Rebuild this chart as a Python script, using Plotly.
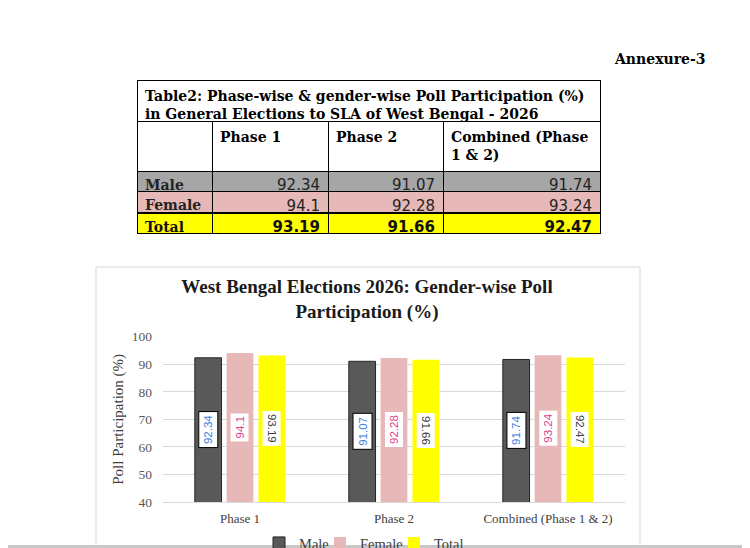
import plotly.graph_objects as go

# chart data
categories = ["Phase 1", "Phase 2", "Combined (Phase 1 & 2)"]
male = [92.34, 91.07, 91.74]
female = [94.1, 92.28, 93.24]
total = [93.19, 91.66, 92.47]

# table data
table_title = "Table2: Phase-wise & gender-wise Poll Participation (%)<br>in General Elections to SLA of West Bengal - 2026"
table_cols = ["", "Phase 1", "Phase 2", "Combined (Phase<br>1 & 2)"]
row_names = ["Male", "Female", "Total"]

# the page body has an 8px margin, so the figure is 8px smaller and
# positions below are given in page pixels
OFF = 8
W, H = 750 - OFF, 548 - OFF


def px_x(px):
    return (px - OFF) / W


def px_y(py):
    return 1 - (py - OFF) / H


serif = "Liberation Serif"
bar_colors = ["#595959", "#E6B8B7", "#FFFF00"]
row_fills = ["#A6A6A6", "#E6B8B7", "#FFFF00"]
label_colors = ["#3B7DDD", "#E0408A", "#404040"]

tbl_x = [px_x(137), px_x(600)]
col_w = [75, 116, 115, 157]
col_align = ["left", "right", "right", "right"]
cell_families = ["DejaVu Serif", "DejaVu Sans", "DejaVu Sans", "DejaVu Sans"]
cell_sizes = [14, 15, 15, 15]
row_h = 20.5

fig = go.Figure()

# --- table: merged title row, then the grid drawn over its lower edge
fig.add_trace(go.Table(
    domain=dict(x=tbl_x, y=[px_y(200), px_y(80)]),
    columnwidth=[1],
    header=dict(values=["<b>" + table_title + "</b>"], align="left", height=40,
                fill_color="white", line=dict(color="black", width=1),
                font=dict(family="DejaVu Serif", size=14, color="black")),
    cells=dict(values=[[""]], height=4, fill_color="white",
               line=dict(color="white", width=0)),
))

series = [male, female, total]
# header + Male/Female rows
fig.add_trace(go.Table(
    domain=dict(x=tbl_x, y=[px_y(262), px_y(121)]),
    columnwidth=col_w,
    header=dict(values=["<b>" + h + "</b>" for h in table_cols], align="left", height=41,
                fill_color="white", line=dict(color="black", width=1),
                font=dict(family="DejaVu Serif", size=14, color="black")),
    cells=dict(values=[row_names[:2]] + [[str(series[r][c]) for r in range(2)] for c in range(3)],
               align=col_align, height=row_h,
               fill_color=[row_fills[:2]] * 4, line=dict(color="black", width=1),
               font=dict(family=cell_families, size=cell_sizes, color="#222222",
                         weight=["bold", "normal", "normal", "normal"])),
))
# Total row (all bold), drawn as its own one-row table
fig.add_trace(go.Table(
    domain=dict(x=tbl_x, y=[px_y(262), px_y(213)]),
    columnwidth=col_w,
    header=dict(values=[row_names[2]] + [str(v) for v in total], align=col_align, height=row_h,
                fill_color=row_fills[2], line=dict(color="black", width=1),
                font=dict(family=cell_families, size=cell_sizes, color="#111111", weight="bold")),
    cells=dict(values=[[""]] * 4, height=1, fill_color="white",
               line=dict(color="white", width=0)),
))

# --- bar chart
names = ["Male", "Female", "Total"]
legend_widths = [16, 29, 32]
for j in range(3):
    fig.add_trace(go.Bar(
        x=categories, y=series[j], name=names[j], legendwidth=legend_widths[j],
        marker=dict(color=bar_colors[j],
                    line=dict(color="#262626" if j == 0 else bar_colors[j], width=1 if j == 0 else 0)),
        hoverinfo="skip",
    ))

bargap = 0.38
slot = (1 - bargap) / 3
annotations = []
for j in range(3):
    for i in range(len(categories)):
        annotations.append(dict(
            x=i + (j - 1) * slot, y=(40 + series[j][i]) / 2, xref="x", yref="y",
            text=str(series[j][i]), showarrow=False,
            textangle=90 if j == 2 else -90,
            font=dict(family="Liberation Sans", size=11.5, color=label_colors[j]),
            bgcolor="white", borderpad=3 if j == 0 else 2, borderwidth=1,
            bordercolor="black" if j == 0 else "white",
        ))

annotations.append(dict(
    x=px_x(612), y=px_y(59), xref="paper", yref="paper", xanchor="left", yanchor="middle",
    text="<b>Annexure-3</b>", showarrow=False,
    font=dict(family="DejaVu Serif", size=14, color="black"),
))

fig.update_layout(
    width=W, height=H,
    margin=dict(l=0, r=0, t=0, b=0, autoexpand=False),
    paper_bgcolor="white", plot_bgcolor="white",
    barmode="group", bargap=bargap, bargroupgap=0.16,
    title=dict(text="<b>West Bengal Elections 2026: Gender-wise Poll<br>Participation (%)</b>",
               x=px_x(367), xanchor="center", y=px_y(293), yanchor="middle",
               font=dict(family=serif, size=19, color="#1a1a1a")),
    xaxis=dict(domain=[px_x(163), px_x(625)], type="category", showgrid=False,
               showline=True, linecolor="#d9d9d9", linewidth=1, ticks="",
               ticklabelstandoff=4,
               tickfont=dict(family=serif, size=13, color="#404040")),
    yaxis=dict(domain=[px_y(502), px_y(336.7)], range=[40, 100], dtick=10,
               showgrid=True, gridcolor="#d9d9d9", gridwidth=1, zeroline=False,
               showline=False, ticks="", ticklabelstandoff=10,
               tickfont=dict(family=serif, size=13.5, color="#595959"),
               title=dict(text="Poll Participation (%)", standoff=4,
                          font=dict(family=serif, size=15, color="#404040"))),
    legend=dict(orientation="h", x=px_x(259), xanchor="left", y=px_y(543), yanchor="middle",
                font=dict(family=serif, size=14.5, color="#404040"), itemwidth=30,
                bgcolor="rgba(0,0,0,0)"),
    annotations=annotations,
    shapes=[
        dict(type="rect", xref="paper", yref="paper", x0=px_x(96), x1=px_x(640),
             y0=px_y(600), y1=px_y(267), line=dict(color="#d9d9d9", width=1), layer="below"),
        dict(type="line", xref="paper", yref="paper", x0=0, x1=1, y0=px_y(546.5), y1=px_y(546.5),
             line=dict(color="#c8c8c8", width=3), layer="above"),
    ],
)

fig.write_html("out.html")
